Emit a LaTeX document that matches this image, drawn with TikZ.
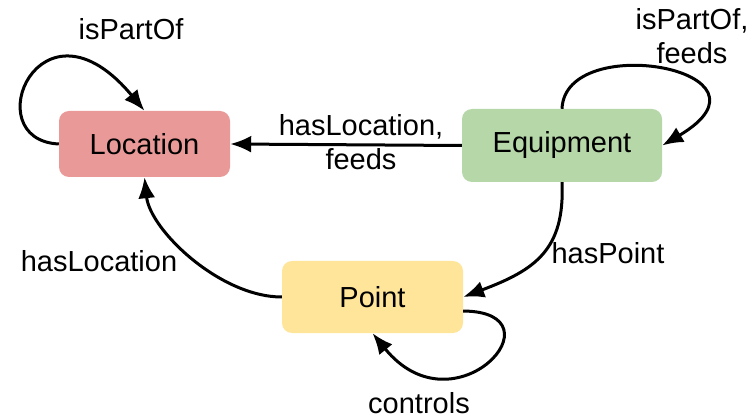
\documentclass[tikz,border=0pt]{standalone}
\usepackage{fontspec}
\setmainfont{Liberation Sans}
\usetikzlibrary{arrows.meta}
\definecolor{locred}{HTML}{EA9999}
\definecolor{equipgreen}{HTML}{B6D7A8}
\definecolor{pointyellow}{HTML}{FFE599}
\begin{document}
\begin{tikzpicture}[x=1pt, y=-1pt, class/.style={rounded corners=10pt, inner sep=0pt},
  rel/.style={line width=3pt, -{Latex[length=21pt,width=17pt]}},
  lbl/.style={align=center, inner sep=0pt}, font=\fontsize{29}{34}\selectfont]
   %Rahmen
   \useasboundingbox (0,0) rectangle (751,419);

%Klassen
\node[class, fill=locred, minimum width=171pt, minimum height=66pt] (loc) at (144.5,144) {Location};
\node[class, fill=equipgreen, minimum width=200pt, minimum height=73pt] (equip) at (562,145.5) {Equipment};
\node[class, fill=pointyellow, minimum width=181pt, minimum height=72pt] (pt) at (372.5,297) {Point};

%Beschriftungen
\node[lbl, anchor=base] (lpartloc) at (131,40) {isPartOf};
\node[lbl] (lpartequip) at (692,36) {isPartOf,\\feeds};
\node[lbl] (lequiploc) at (361,142) {hasLocation,\\feeds};
\node[lbl, anchor=base] (lhaspoint) at (608,263) {hasPoint};
\node[lbl, anchor=base] (lptloc) at (99,272) {hasLocation};
\node[lbl, anchor=base] (lcontrols) at (419,413) {controls};

%Relationen
\draw[rel] (equip.west) -- (loc.east);
\draw[rel] (loc.west) .. controls (-25,140) and (40,-15) .. (loc.north);
\draw[rel] (equip.north) .. controls (565,30) and (790,70) .. (equip.east);
\draw[rel] (equip.south) .. controls (565,250) and (535,270) .. (pt.east);
\draw[rel] (pt.west) .. controls (220,297) and (150,230) .. (loc.south);
\draw[rel] ([yshift=-14pt]pt.east) .. controls (565,312) and (455,435) .. (pt.south);
\end{tikzpicture}
\end{document}
